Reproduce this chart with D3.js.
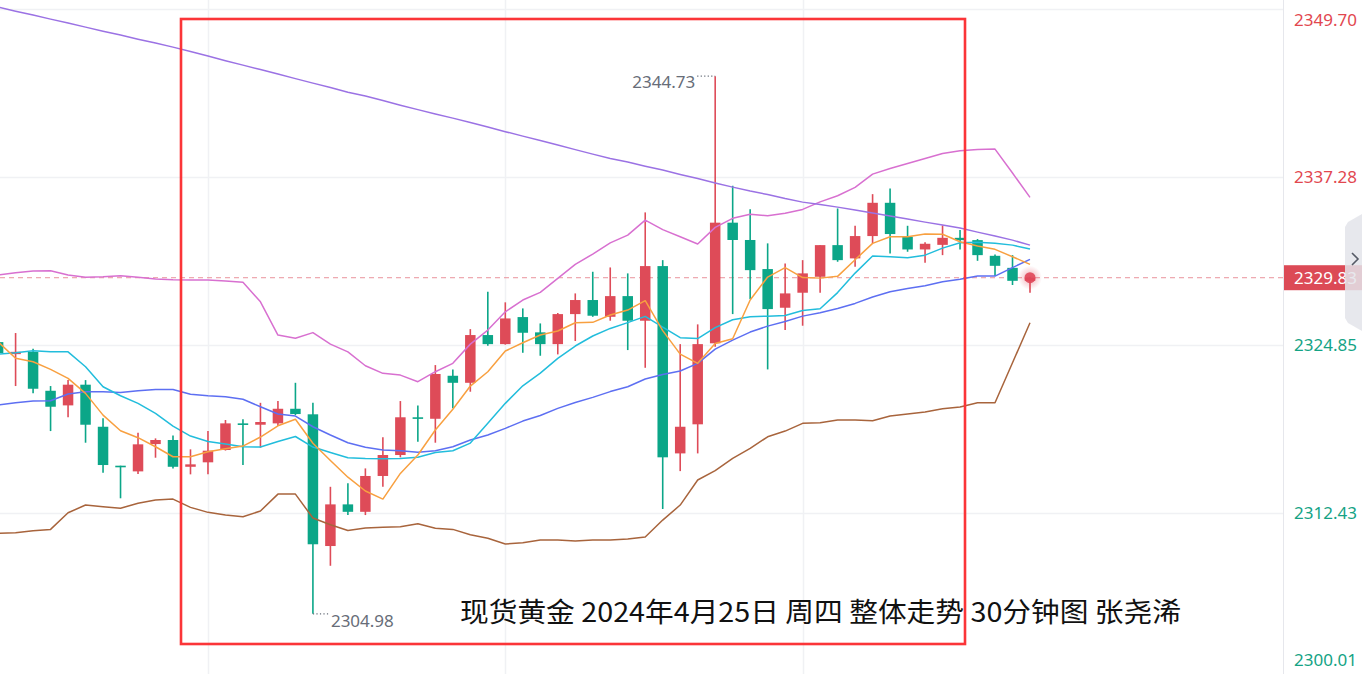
<!DOCTYPE html>
<html><head><meta charset="utf-8">
<script src="https://cdn.jsdelivr.net/npm/d3@7/dist/d3.min.js"></script>
<style>html,body{margin:0;padding:0;background:#fff;overflow:hidden}</style>
</head><body>
<svg id="c" width="1362" height="674"></svg>
<script>
// ---------- DATA ----------
const times = ["04-24 14:30","04-24 15:00","04-24 15:30","04-24 16:00","04-24 16:30","04-24 17:00","04-24 17:30","04-24 18:00","04-24 18:30","04-24 19:00",
"04-24 19:30","04-24 20:00","04-24 20:30","04-24 21:00","04-24 21:30","04-24 22:00","04-24 22:30","04-24 23:00","04-24 23:30","04-25 00:00",
"04-25 00:30","04-25 01:00","04-25 01:30","04-25 02:00","04-25 02:30","04-25 03:00","04-25 03:30","04-25 04:00","04-25 04:30","04-25 05:00",
"04-25 05:30","04-25 06:00","04-25 06:30","04-25 07:00","04-25 07:30","04-25 08:00","04-25 08:30","04-25 09:00","04-25 09:30","04-25 10:00",
"04-25 10:30","04-25 11:00","04-25 11:30","04-25 12:00","04-25 12:30","04-25 13:00","04-25 13:30","04-25 14:00","04-25 14:30","04-25 15:00",
"04-25 15:30","04-25 16:00","04-25 16:30","04-25 17:00","04-25 17:30","04-25 18:00","04-25 18:30","04-25 19:00","04-25 19:30","04-25 20:00"];

const open  = [2325.07,2324.18,2324.35,2321.47,2320.39,2321.92,2318.81,2315.93,2315.51,2317.53,
2317.83,2315.85,2316.18,2317.09,2319.06,2318.96,2319.06,2320.14,2319.73,2309.99,
2313.07,2312.52,2315.17,2316.72,2319.51,2319.40,2322.58,2322.06,2325.59,2324.92,
2326.92,2325.79,2324.92,2327.14,2328.18,2326.94,2328.47,2326.65,2330.69,2316.84,
2318.99,2324.98,2333.90,2332.62,2330.47,2327.61,2328.72,2329.90,2332.24,2331.26,
2332.91,2335.37,2332.86,2331.92,2332.26,2332.78,2332.61,2331.45,2330.56,2329.60];
const high  = [2330.39,2325.74,2324.58,2321.82,2322.26,2322.26,2319.43,2315.93,2318.37,2317.95,
2318.17,2317.14,2318.49,2319.31,2319.36,2320.58,2320.71,2322.06,2320.58,2314.37,
2314.63,2315.73,2318.03,2320.71,2320.39,2323.37,2323.05,2326.03,2328.79,2328.01,
2327.56,2326.45,2327.22,2328.67,2330.27,2330.59,2330.15,2334.66,2331.13,2324.92,
2326.38,2344.73,2336.63,2334.90,2332.37,2330.89,2331.13,2332.24,2334.95,2333.67,
2336.01,2336.43,2333.67,2332.46,2333.70,2333.35,2332.69,2331.55,2331.50,2329.90];
const low   = [2324.04,2321.82,2321.28,2318.49,2319.51,2317.63,2315.41,2313.52,2315.31,2316.52,
2315.73,2315.29,2315.29,2317.05,2315.98,2317.26,2318.86,2319.67,2304.98,2308.53,
2312.28,2312.28,2314.37,2316.55,2317.70,2317.63,2320.17,2321.40,2324.80,2324.88,
2324.28,2324.06,2324.16,2325.15,2326.94,2326.65,2324.48,2323.17,2312.73,2315.53,
2316.84,2324.72,2327.14,2328.25,2323.05,2325.96,2326.28,2328.72,2331.01,2330.64,
2332.37,2331.63,2331.75,2330.93,2331.50,2331.92,2331.08,2329.95,2329.29,2328.72];
const close = [2324.26,2324.35,2321.62,2320.29,2321.92,2318.96,2315.98,2315.85,2317.51,2317.83,
2315.85,2316.03,2317.04,2319.06,2318.96,2319.16,2320.14,2319.75,2310.12,2313.07,
2312.52,2315.17,2316.72,2319.51,2319.40,2322.71,2322.06,2325.59,2324.92,2326.82,
2325.76,2324.92,2327.14,2328.18,2327.02,2328.47,2326.65,2330.69,2316.55,2318.81,
2324.92,2333.90,2332.62,2330.39,2327.51,2328.67,2330.15,2332.24,2331.13,2332.91,
2335.37,2333.06,2331.92,2332.34,2332.78,2332.61,2331.50,2330.71,2329.60,2329.83];

// moving averages / bands
const maOrange = [2325.09,2323.87,2323.62,2323.05,2322.39,2321.28,2319.67,2318.51,2318.00,2317.33,
2316.59,2316.59,2316.96,2317.18,2317.38,2318.05,2318.88,2319.36,2317.59,2316.31,
2315.08,2314.06,2313.46,2315.36,2316.72,2318.57,2320.10,2321.82,2322.88,2324.41,
2325.02,2325.59,2325.89,2326.50,2326.53,2327.07,2327.44,2328.13,2325.92,2324.18,
2323.50,2324.96,2325.32,2328.18,2329.88,2330.58,2329.84,2329.80,2329.93,2331.16,
2332.37,2332.86,2332.86,2333.06,2333.04,2332.49,2332.18,2331.93,2331.38,2330.82];
const maCyan = [2324.18,2324.28,2324.43,2324.35,2324.35,2323.25,2321.77,2321.10,2320.54,2319.80,
2318.86,2318.12,2317.72,2317.53,2317.33,2317.31,2317.72,2318.09,2317.31,2316.90,
2316.52,2316.46,2316.44,2316.47,2316.55,2316.90,2317.04,2317.60,2319.06,2320.54,
2321.84,2322.78,2323.87,2324.78,2325.52,2326.08,2326.51,2326.97,2326.18,2325.40,
2325.33,2326.14,2326.72,2326.94,2326.99,2327.03,2327.40,2327.53,2328.73,2330.17,
2331.44,2331.38,2331.30,2331.50,2332.02,2332.41,2332.46,2332.37,2332.24,2331.95];
const maBlue = [2320.41,2320.58,2320.71,2320.73,2321.23,2321.40,2321.40,2321.35,2321.47,2321.57,
2321.57,2321.21,2321.10,2321.03,2320.84,2320.29,2319.75,2319.60,2318.81,2318.20,
2317.63,2317.29,2317.09,2317.04,2316.92,2317.04,2317.33,2317.83,2318.20,2318.69,
2319.23,2319.64,2320.17,2320.60,2320.98,2321.41,2321.77,2322.34,2322.67,2322.93,
2323.50,2324.55,2325.22,2325.81,2326.25,2326.59,2326.99,2327.24,2327.56,2327.93,
2328.40,2328.79,2329.03,2329.23,2329.53,2329.71,2329.95,2329.95,2330.58,2331.19];
const maPurple = [2349.84,2349.54,2349.25,2348.95,2348.66,2348.36,2348.06,2347.77,2347.47,2347.18,
2346.88,2346.55,2346.22,2345.88,2345.55,2345.22,2344.89,2344.55,2344.22,2343.89,
2343.55,2343.26,2342.93,2342.59,2342.26,2341.93,2341.63,2341.30,2340.97,2340.63,
2340.30,2339.97,2339.64,2339.30,2338.97,2338.64,2338.38,2338.08,2337.79,2337.46,
2337.16,2336.83,2336.53,2336.24,2335.98,2335.68,2335.42,2335.24,2335.05,2334.83,
2334.61,2334.39,2334.17,2333.94,2333.72,2333.50,2333.20,2332.91,2332.61,2332.24];
const bollUpper = [2330.03,2330.20,2330.32,2330.34,2330.03,2329.86,2329.90,2329.97,2329.86,2329.73,
2329.68,2329.66,2329.66,2329.58,2329.49,2328.05,2325.59,2325.35,2325.77,2324.92,
2324.35,2323.32,2322.76,2322.63,2322.14,2322.88,2323.50,2324.92,2325.96,2327.31,
2328.18,2328.75,2329.78,2330.82,2331.58,2332.41,2332.98,2334.09,2333.39,2332.86,
2332.32,2333.55,2334.22,2334.53,2334.41,2334.59,2334.88,2335.44,2335.89,2336.51,
2337.49,2337.91,2338.28,2338.65,2339.02,2339.21,2339.32,2339.34,2337.57,2335.77];
const bollLower = [2310.93,2310.97,2311.12,2311.22,2312.45,2313.02,2312.90,2312.78,2313.15,2313.39,
2313.46,2312.85,2312.48,2312.28,2312.16,2312.58,2313.83,2313.83,2312.06,2311.56,
2311.14,2311.32,2311.37,2311.42,2311.64,2311.30,2311.22,2310.83,2310.56,2310.14,
2310.23,2310.43,2310.43,2310.36,2310.43,2310.43,2310.51,2310.66,2311.91,2313.02,
2314.87,2315.56,2316.47,2317.21,2318.07,2318.49,2319.06,2319.11,2319.31,2319.31,
2319.25,2319.60,2319.75,2319.90,2320.14,2320.27,2320.58,2320.58,2323.54,2326.50];

const yTicks = [2300.01, 2312.43, 2324.85, 2337.28, 2349.70];
const xGridTimes = ["04-24 20:30", "04-25 05:00", "04-25 13:30"];
const lastPrice = 2329.83;
const title = "现货黄金 2024年4月25日 周四 整体走势 30分钟图 张尧浠";

// ---------- DRAW ----------
const svg = d3.select("#c");
const plotRight = 1283;
const y = d3.scaleLinear().domain([2300.01, 2349.70]).range([681, 9]);
const x = d3.scalePoint().domain(times).range([-1.9, 1030]);

const UP = "#de4b58", DOWN = "#0ba688";

svg.append("rect").attr("width",1362).attr("height",674).attr("fill","#fff");
svg.append("defs").html(`
  <clipPath id="plot"><rect x="0" y="0" width="${plotRight}" height="674"/></clipPath>
  <radialGradient id="glow"><stop offset="0" stop-color="#e0485a" stop-opacity="0.45"/><stop offset="1" stop-color="#e0485a" stop-opacity="0"/></radialGradient>`);

const g = svg.append("g").attr("clip-path","url(#plot)");

// grid
g.selectAll(".hg").data(yTicks).join("line")
  .attr("x1",0).attr("x2",plotRight).attr("y1",d=>Math.round(y(d))+0.5).attr("y2",d=>Math.round(y(d))+0.5)
  .attr("stroke","#f0f1f4").attr("stroke-width",1.5);
g.selectAll(".vg").data(xGridTimes).join("line")
  .attr("x1",d=>Math.round(x(d))+0.5).attr("x2",d=>Math.round(x(d))+0.5).attr("y1",0).attr("y2",674)
  .attr("stroke","#f0f1f4").attr("stroke-width",1.5);

// last price dashed line
g.append("line").attr("x1",0).attr("x2",plotRight).attr("y1",y(lastPrice)).attr("y2",y(lastPrice))
  .attr("stroke","#e9939b").attr("stroke-width",1).attr("stroke-dasharray","5,4");

// candles
const idx = d3.range(times.length);
const bw = 10.5;
const cg = g.append("g");
cg.selectAll(".wick").data(idx).join("line")
  .attr("x1",i=>x(times[i])).attr("x2",i=>x(times[i]))
  .attr("y1",i=>y(high[i])).attr("y2",i=>y(low[i]))
  .attr("stroke",i=>close[i]>=open[i]?UP:DOWN).attr("stroke-width",1.6);
cg.selectAll(".body").data(idx).join("rect")
  .attr("x",i=>x(times[i])-bw/2)
  .attr("y",i=>Math.min(y(open[i]),y(close[i])))
  .attr("width",bw)
  .attr("height",i=>Math.max(1.6,Math.abs(y(open[i])-y(close[i]))))
  .attr("fill",i=>close[i]>=open[i]?UP:DOWN);

// lines
const line = d3.line().x((d,i)=>x(times[i])).y(d=>y(d));
const series = [
  [bollLower,"#a8643c"],
  [bollUpper,"#d870d0"],
  [maPurple,"#9b72e4"],
  [maBlue,"#5d6ff2"],
  [maCyan,"#22bddc"],
  [maOrange,"#f8a040"]
];
g.selectAll(".ln").data(series).join("path")
  .attr("d",d=>line(d[0])).attr("fill","none").attr("stroke",d=>d[1]).attr("stroke-width",1.5)
  .attr("stroke-linejoin","round");

// last candle glow
const lx = x(times[times.length-1]), ly = y(lastPrice);
g.append("circle").attr("cx",lx).attr("cy",ly).attr("r",12).attr("fill","url(#glow)");
g.append("circle").attr("cx",lx).attr("cy",ly).attr("r",5.5).attr("fill","#e0485a").attr("opacity",0.9);

// high/low annotations
const hiI = high.indexOf(d3.max(high)), loI = low.indexOf(d3.min(low));
const annoCol = "#676d78";
g.append("line").attr("x1",x(times[hiI])-18).attr("x2",x(times[hiI])).attr("y1",y(high[hiI])).attr("y2",y(high[hiI]))
  .attr("stroke",annoCol).attr("stroke-width",1.2).attr("stroke-dasharray","1.2,2.3");
g.append("text").attr("x",x(times[hiI])-20).attr("y",y(high[hiI])+12).attr("text-anchor","end")
  .attr("font-family","Noto Sans, DejaVu Sans, sans-serif").attr("font-size",17).attr("fill",annoCol)
  .text(d3.format(".2f")(high[hiI]));
g.append("line").attr("x1",x(times[loI])).attr("x2",x(times[loI])+16).attr("y1",y(low[loI])).attr("y2",y(low[loI]))
  .attr("stroke",annoCol).attr("stroke-width",1.2).attr("stroke-dasharray","1.2,2.3");
g.append("text").attr("x",x(times[loI])+18).attr("y",y(low[loI])+13).attr("text-anchor","start")
  .attr("font-family","Noto Sans, DejaVu Sans, sans-serif").attr("font-size",17).attr("fill",annoCol)
  .text(d3.format(".2f")(low[loI]));

// axis border
svg.append("line").attr("x1",plotRight+0.5).attr("x2",plotRight+0.5).attr("y1",0).attr("y2",674)
  .attr("stroke","#e6e7ec").attr("stroke-width",1);

// right axis
const ax = svg.append("g").attr("transform",`translate(${plotRight},0)`)
  .call(d3.axisRight(y).tickValues(yTicks).tickSize(0).tickPadding(11).tickFormat(d3.format(".2f")));
ax.select(".domain").remove();
ax.selectAll(".tick text")
  .attr("font-family","Noto Sans, DejaVu Sans, sans-serif").attr("font-size",17)
  .attr("fill",d=>d>lastPrice?"#e2474f":"#14a385")
  .attr("dy",d=>{const p=y(d); if(p<20) return (20-p+5)+"px"; if(p>660) return (660-p+5)+"px"; return "0.32em";});

// last price label
svg.append("rect").attr("x",plotRight+1).attr("y",ly-12.5).attr("width",1362-plotRight-1).attr("height",25).attr("fill","#dc4a56");
svg.append("text").attr("x",plotRight+11).attr("y",ly).attr("dy","0.35em")
  .attr("font-family","Noto Sans, DejaVu Sans, sans-serif").attr("font-size",17).attr("fill","#fff")
  .text(d3.format(".2f")(lastPrice));

// side tab
svg.append("path").attr("d","M1362,214 L1348,222 L1345,227 L1345,318 L1348,323 L1362,331 Z")
  .attr("fill","#e3e4ea").attr("opacity",0.85);
svg.append("path").attr("d","M1352,253 L1358,259 L1352,265").attr("fill","none").attr("stroke","#555a66").attr("stroke-width",1.6);

// red highlight rectangle
svg.append("rect").attr("x",x(times[10])+8).attr("y",19).attr("width",784).attr("height",625)
  .attr("fill","none").attr("stroke","#fb3538").attr("stroke-width",2.6);

// title
svg.append("text").attr("x",460).attr("y",622)
  .attr("font-family","Noto Sans CJK SC, sans-serif").attr("font-size",27).attr("fill","#111")
  .attr("textLength",721).attr("lengthAdjust","spacingAndGlyphs")
  .text(title);
</script>
</body></html>
